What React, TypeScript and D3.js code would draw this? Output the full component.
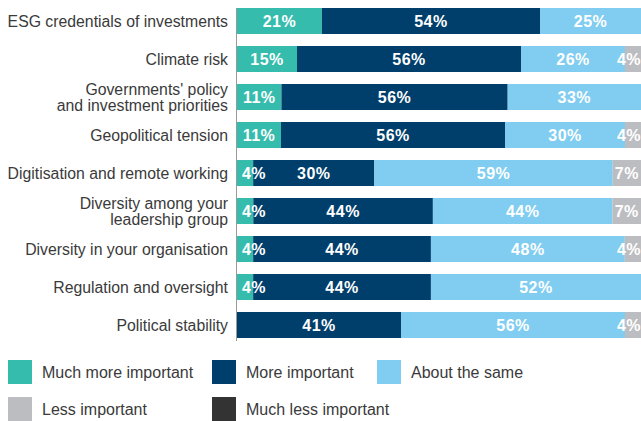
import React from "react";
import * as d3 from "d3";

const categories: string[][] = [
  ["ESG credentials of investments"],
  ["Climate risk"],
  ["Governments' policy", "and investment priorities"],
  ["Geopolitical tension"],
  ["Digitisation and remote working"],
  ["Diversity among your", "leadership group"],
  ["Diversity in your organisation"],
  ["Regulation and oversight"],
  ["Political stability"],
];

const seriesNames = [
  "Much more important",
  "More important",
  "About the same",
  "Less important",
  "Much less important",
];

const muchMore = [21, 15, 11, 11, 4, 4, 4, 4, 0];
const more = [54, 56, 56, 56, 30, 44, 44, 44, 41];
const aboutSame = [25, 26, 33, 30, 59, 44, 48, 52, 56];
const less = [0, 4, 0, 4, 7, 7, 4, 0, 4];
const muchLess = [0, 0, 0, 0, 0, 0, 0, 0, 0];

const colors = ["#35bcad", "#003e6b", "#80cdf1", "#bcbdc0", "#333333"];

const W = 641;
const H = 421;

export default function App() {
  const keys = seriesNames;
  const rows = categories.map((c, i) => ({
    id: String(i),
    [keys[0]]: muchMore[i],
    [keys[1]]: more[i],
    [keys[2]]: aboutSame[i],
    [keys[3]]: less[i],
    [keys[4]]: muchLess[i],
  })) as any[];

  const stack = d3.stack<any>().keys(keys).offset(d3.stackOffsetExpand);
  const series = stack(rows);

  const x = d3.scaleLinear().domain([0, 1]).range([237, 641]);
  const y = d3
    .scaleBand<string>()
    .domain(rows.map((r) => r.id))
    .range([2, 344])
    .paddingInner(12 / 38)
    .paddingOuter(6 / 38);

  const color = d3.scaleOrdinal<string, string>().domain(keys).range(colors);
  const bw = y.bandwidth();

  const legendPos = [
    [8, 360],
    [212, 360],
    [377, 360],
    [8, 397],
    [212, 397],
  ];

  return (
    <svg
      width={W}
      height={H}
      style={{ position: "absolute", left: 0, top: 0, display: "block" }}
      fontFamily="'Liberation Sans', Arial, Helvetica, sans-serif"
    >
      <rect x={0} y={0} width={W} height={H} fill="#ffffff" />
      {series.map((s) => (
        <g key={s.key} fill={color(s.key)}>
          {s.map((d, i) => {
            const w = x(d[1]) - x(d[0]);
            if (w <= 0) return null;
            return (
              <rect
                key={i}
                x={x(d[0])}
                y={y(rows[i].id)!}
                width={w}
                height={bw}
              />
            );
          })}
        </g>
      ))}
      {series.map((s) => (
        <g key={"t" + s.key}>
          {s.map((d, i) => {
            const v = rows[i][s.key];
            if (!v) return null;
            let cx = (x(d[0]) + x(d[1])) / 2;
            cx = Math.max(254, Math.min(629, cx));
            const cy = y(rows[i].id)! + bw / 2;
            return (
              <text
                key={i}
                x={cx}
                y={cy}
                dy="0.36em"
                textAnchor="middle"
                fill="#ffffff"
                fontWeight="bold"
                fontSize={16}
                letterSpacing={0.5}
              >
                {v}%
              </text>
            );
          })}
        </g>
      ))}
      <line x1={236.5} x2={236.5} y1={8} y2={341} stroke="#9a9a9a" strokeWidth={1} />
      {categories.map((lines, i) => {
        const cy = y(String(i))! + bw / 2;
        return (
          <text
            key={i}
            x={228}
            textAnchor="end"
            fill="#3a3a3a"
            fontSize={15.8}
          >
            {lines.map((l, li) => (
              <tspan
                key={li}
                x={228}
                y={cy + (li - (lines.length - 1) / 2) * 16}
                dy="0.36em"
              >
                {l}
              </tspan>
            ))}
          </text>
        );
      })}
      {keys.map((k, i) => (
        <g key={"l" + k} transform={`translate(${legendPos[i][0]},${legendPos[i][1]})`}>
          <rect width={24} height={24} fill={color(k)} />
          <text x={34} y={12} dy="0.36em" fontSize={16} fill="#3a3a3a">
            {k}
          </text>
        </g>
      ))}
    </svg>
  );
}
